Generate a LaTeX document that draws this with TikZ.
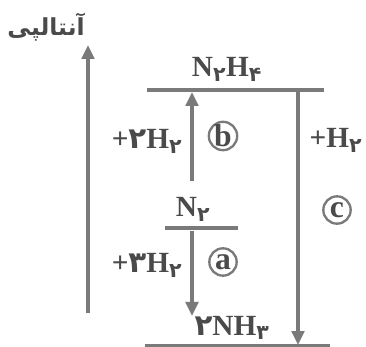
\documentclass[tikz,border=0pt]{standalone}
\usepackage{fontspec}
\setmainfont{Liberation Serif}
\newfontfamily\pfont[Script=Arabic]{DejaVu Sans}
\TeXXeTstate=1
\usetikzlibrary{arrows.meta,positioning}
\definecolor{linegray}{HTML}{7A7A7A}
\definecolor{textgray}{HTML}{4A4A4A}
\newcommand{\pd}[1]{{\pfont\bfseries #1}}
\newcommand{\psub}[1]{\textsubscript{\pfont\bfseries #1}}

\begin{document}
\begin{tikzpicture}[x=0.3mm, y=-0.3mm, every node/.style={text=textgray, font=\fontsize{25}{28}\selectfont\bfseries}, lvl/.style={draw=linegray, line width=3pt}, arr/.style={draw=linegray, line width=2.6pt, -{Triangle[width=3.8mm,length=4.2mm]}}, tag/.style={circle, draw=linegray, line width=2pt, minimum size=8.2mm, inner sep=0pt, font=\fontsize{27}{28}\selectfont\bfseries}, lbl/.style={anchor=base}]
\useasboundingbox (0,0) rectangle (366,347);
% axis
\node[font=\fontsize{20}{22}\selectfont] (enth) at (46,27) {\pfont\bfseries\beginR آنتالپی\endR};
\coordinate (axbot) at (88,313);
\coordinate (axtop) at (88,45);
\draw[arr] (axbot) -- (axtop);
% levels
\coordinate (topL) at (147,90);
\coordinate (topR) at (324,90);
\coordinate (midL) at (165,228);
\coordinate (midR) at (238,228);
\coordinate (botL) at (145,346);
\coordinate (botR) at (330,346);
\draw[lvl] (topL) -- (topR);
\draw[lvl] (midL) -- (midR);
\draw[lvl] (botL) -- (botR);
\node[lbl] (n2h4) at (227,77) {N\psub{۲}H\psub{۴}};
\node[lbl] (n2) at (193,217) {N\psub{۲}};
\node[lbl] (nh3) at (232,335) {\pd{۲}NH\psub{۳}};
% steps
\coordinate (bfrom) at (192,181);
\coordinate (bto) at (192,92);
\coordinate (afrom) at (192,231);
\coordinate (ato) at (192,316);
\coordinate (cfrom) at (298,90);
\coordinate (cto) at (298,345);
\draw[arr] (bfrom) -- (bto);
\draw[arr] (afrom) -- (ato);
\draw[arr] (cfrom) -- (cto);
\node[tag] (tb) at (223,136) {b};
\node[tag] (ta) at (223,262) {a};
\node[tag] (tc) at (337,210) {c};
\node[lbl] (hb) at (147,149) {+\pd{۲}H\psub{۲}};
\node[lbl] (ha) at (147,273) {+\pd{۳}H\psub{۲}};
\node[lbl] (hc) at (336,148) {+H\psub{۲}};
\end{tikzpicture}
\end{document}
